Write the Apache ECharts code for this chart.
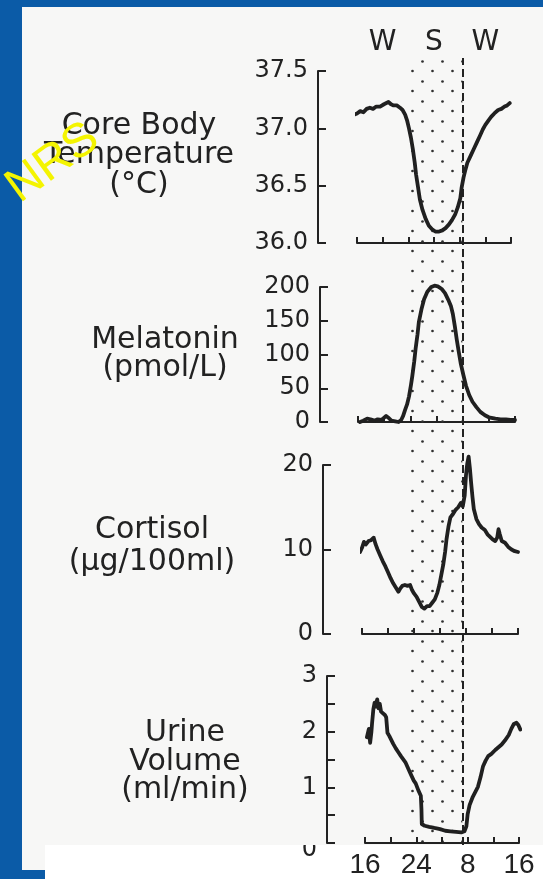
<!DOCTYPE html>
<html>
<head>
<meta charset="utf-8">
<script src="https://cdn.jsdelivr.net/npm/echarts@6/dist/echarts.min.js"></script>
<style>
  html, body { margin: 0; padding: 0; background: #f7f7f6; }
  #chart { width: 543px; height: 879px; }
</style>
</head>
<body>
<div id="chart"></div>
<script>
// ---- Clock time in hours (16 = 4 pm, 24 = midnight, 32 = 8 am next day) ----
const timeMin = 16;
const timeMax = 40;
const sleepStart = 24;
const sleepEnd = 32;
const xTickLabels = ['16', '', '24', '', '8', '', '16'];
const stateLabels = ['', 'W', '', 'S', '', 'W', ''];

// ---- Core body temperature (°C) ----
const tempTime = [15.2, 15.6, 16.0, 16.5, 17.0, 17.5, 18.0, 18.5, 19.0, 19.6, 20.2, 20.9, 21.3, 21.7, 22.2, 22.7, 23.1, 23.5, 23.8, 24.1, 24.4, 24.7, 25.0, 25.2, 25.5, 25.8, 26.2, 26.7, 27.2, 27.7, 28.2, 28.8, 29.3, 29.8, 30.3, 30.8, 31.3, 31.7, 32.1, 32.3, 32.6, 32.9, 33.2, 33.7, 34.2, 34.7, 35.2, 35.6, 36.0, 36.5, 36.9, 37.4, 38.0, 38.5, 39.0, 39.4, 39.8];
const tempC = [37.11, 37.12, 37.13, 37.15, 37.14, 37.17, 37.18, 37.17, 37.19, 37.19, 37.21, 37.23, 37.21, 37.20, 37.20, 37.18, 37.16, 37.12, 37.07, 37.00, 36.92, 36.82, 36.70, 36.60, 36.49, 36.38, 36.29, 36.21, 36.15, 36.12, 36.10, 36.10, 36.11, 36.13, 36.16, 36.20, 36.25, 36.31, 36.39, 36.48, 36.57, 36.64, 36.70, 36.76, 36.82, 36.88, 36.94, 36.99, 37.03, 37.07, 37.10, 37.13, 37.16, 37.17, 37.19, 37.20, 37.22];

// ---- Melatonin (pmol/L) ----
const melTime = [16.3, 16.8, 17.4, 17.9, 18.5, 19.0, 19.6, 20.3, 20.7, 21.1, 21.7, 22.2, 22.6, 22.9, 23.2, 23.5, 23.8, 24.1, 24.3, 24.6, 24.8, 25.1, 25.3, 25.7, 26.1, 26.6, 27.2, 27.7, 28.2, 28.8, 29.3, 29.8, 30.2, 30.5, 30.8, 31.1, 31.4, 31.7, 32.1, 32.5, 33.0, 33.5, 34.1, 34.7, 35.4, 36.0, 37.0, 37.8, 38.6, 39.3, 40.0];
const melPmol = [0, 2, 5, 4, 2, 4, 3, 9, 6, 2, 1, 0, 3, 9, 18, 26, 38, 55, 68, 90, 108, 130, 148, 167, 182, 193, 200, 202, 201, 197, 191, 181, 172, 160, 142, 122, 104, 87, 70, 54, 40, 30, 22, 15, 10, 7, 5, 4, 4, 3, 3];

// ---- Cortisol (µg/100ml) ----
const cortTime = [15.7, 16.0, 16.3, 16.6, 17.0, 17.4, 17.8, 18.1, 18.4, 18.8, 19.2, 19.6, 20.0, 20.4, 20.8, 21.2, 21.6, 21.9, 22.2, 22.6, 23.0, 23.4, 23.7, 24.0, 24.4, 24.8, 25.2, 25.6, 26.0, 26.4, 26.8, 27.2, 27.6, 27.9, 28.2, 28.5, 28.8, 29.0, 29.3, 29.6, 30.0, 30.4, 30.8, 31.2, 31.5, 31.8, 32.0, 32.2, 32.4, 32.6, 32.8, 33.0, 33.2, 33.6, 34.0, 34.4, 34.9, 35.3, 35.7, 36.1, 36.5, 36.8, 37.0, 37.2, 37.5, 38.0, 38.5, 39.0, 39.5, 40.0];
const cortUg = [9.7, 10.2, 10.9, 10.6, 11.0, 11.1, 11.4, 10.6, 10.0, 9.3, 8.6, 8.0, 7.3, 6.6, 6.0, 5.5, 5.0, 5.4, 5.7, 5.8, 5.7, 5.8, 5.2, 4.8, 4.4, 3.8, 3.2, 3.0, 3.3, 3.3, 3.7, 4.1, 4.9, 5.8, 7.0, 8.2, 9.8, 11.2, 12.7, 13.8, 14.2, 14.7, 15.0, 15.5, 15.1, 16.4, 18.8, 20.2, 21.0, 19.6, 17.8, 16.2, 14.8, 13.6, 13.0, 12.6, 12.3, 11.8, 11.5, 11.2, 11.0, 11.4, 12.4, 11.8, 11.0, 10.8, 10.3, 10.0, 9.8, 9.7];

// ---- Urine volume (ml/min) ----
const urineTime = [16.3, 16.6, 16.8, 17.0, 17.1, 17.3, 17.5, 17.7, 17.9, 18.1, 18.3, 18.5, 18.8, 19.1, 19.3, 19.5, 19.8, 20.1, 20.4, 20.8, 21.2, 21.6, 21.9, 22.3, 22.8, 23.2, 23.6, 23.9, 24.3, 24.7, 24.8, 24.85, 25.3, 26.0, 26.8, 27.7, 28.5, 29.3, 30.2, 31.0, 31.5, 31.8, 32.0, 32.3, 32.8, 33.2, 33.6, 34.0, 34.4, 34.8, 35.2, 35.7, 36.3, 36.8, 37.3, 37.8, 38.4, 38.8, 39.2, 39.6, 39.9, 40.2];
const urineMl = [1.90, 2.05, 1.80, 2.00, 2.15, 2.40, 2.52, 2.45, 2.58, 2.42, 2.50, 2.36, 2.35, 2.30, 2.26, 1.98, 1.92, 1.90, 1.78, 1.70, 1.63, 1.56, 1.55, 1.45, 1.32, 1.22, 1.12, 1.07, 0.95, 0.85, 0.60, 0.34, 0.31, 0.29, 0.27, 0.25, 0.22, 0.21, 0.20, 0.19, 0.21, 0.30, 0.52, 0.68, 0.83, 0.92, 1.01, 1.18, 1.38, 1.48, 1.56, 1.60, 1.67, 1.72, 1.77, 1.84, 1.94, 2.05, 2.14, 2.16, 2.12, 2.04];

// ---- Styling ----
const INK = '#222222';
const PAPER = '#f7f7f6';
const FIG_FONT = 'DejaVu Sans';
const zip = (xs, ys) => xs.map((x, i) => [x, ys[i]]);

// Stippled fill for the sleep period
function dotPattern() {
  const c = document.createElement('canvas');
  c.width = 20; c.height = 20;
  const g = c.getContext('2d');
  g.fillStyle = '#303030';
  [[2.5, 1.5], [12.5, 11]].forEach(([x, y]) => {
    g.beginPath(); g.arc(x, y, 1.35, 0, Math.PI * 2); g.fill();
  });
  return c;
}

// Panel rectangles: [left, top, width, height]
const panels = [
  { rect: [357, 71, 154, 172], offset: 39, min: 36, max: 37.5, interval: 0.5, fmt: v => v.toFixed(1) },
  { rect: [358, 287, 157, 135], offset: 38, min: 0, max: 200, interval: 50, fmt: v => String(v) },
  { rect: [362, 465, 156, 169], offset: 39, min: 0, max: 20, interval: 10, fmt: v => String(v) },
  // the zero label of the last panel sits low, half hidden by the panel edge
  { rect: [365, 676, 154, 167], offset: 38, min: 0, max: 3, interval: 0.5,
    fmt: v => (v === 0 ? '{low|0}' : Number.isInteger(v) ? String(v) : '') }
];

const grids = panels.map(p => ({ left: p.rect[0], top: p.rect[1], width: p.rect[2], height: p.rect[3] }));
grids.push({ left: 359, top: 58, width: 155, height: 787 }); // sleep band overlay

const xAxes = panels.map((p, i) => ({
  type: 'value', gridIndex: i, min: timeMin, max: timeMax, interval: 4,
  z: i === 3 ? 60 : 0,
  axisLine: { show: true, onZero: false, lineStyle: { color: INK, width: 2 } },
  axisTick: { show: true, inside: true, length: 6, lineStyle: { color: INK, width: 2 } },
  splitLine: { show: false },
  axisLabel: {
    show: i === 3, margin: 8, fontFamily: 'Liberation Sans', fontSize: 28, color: INK,
    formatter: v => xTickLabels[Math.round((v - timeMin) / 4)]
  }
}));
// Wake / sleep state markers along the top of the first panel
xAxes.push({
  type: 'value', gridIndex: 0, position: 'top', min: timeMin, max: timeMax, interval: 4,
  axisLine: { show: false }, axisTick: { show: false }, splitLine: { show: false },
  axisLabel: {
    margin: 14, fontFamily: FIG_FONT, fontSize: 28, color: INK,
    formatter: v => stateLabels[Math.round((v - timeMin) / 4)]
  }
});
xAxes.push({ type: 'value', gridIndex: 4, min: timeMin, max: timeMax, show: false });

const yAxes = panels.map((p, i) => ({
  type: 'value', gridIndex: i, min: p.min, max: p.max, interval: p.interval, offset: p.offset,
  z: i === 3 ? 55 : 0,
  axisLine: { show: true, onZero: false, lineStyle: { color: INK, width: 2 } },
  axisTick: { show: true, inside: true, length: 8, lineStyle: { color: INK, width: 2 } },
  splitLine: { show: false },
  axisLabel: {
    margin: 10, fontFamily: FIG_FONT, fontSize: 24, color: INK, formatter: p.fmt,
    rich: { low: { fontFamily: FIG_FONT, fontSize: 24, color: INK, padding: [14, 0, 0, 0] } }
  }
}));
yAxes.push({ type: 'value', gridIndex: 4, min: 0, max: 1, show: false });

const curve = (idx, data) => ({
  type: 'line', xAxisIndex: idx, yAxisIndex: idx, data, clip: false,
  showSymbol: false, symbol: 'none', smooth: false, z: 5,
  lineStyle: { color: '#202020', width: 3.8, join: 'round', cap: 'round' }
});

const series = [
  {
    type: 'line', xAxisIndex: 5, yAxisIndex: 4, data: [[timeMin, -1]], showSymbol: false, silent: true, z: 1,
    lineStyle: { opacity: 0 },
    markArea: {
      silent: true,
      itemStyle: { color: { image: dotPattern(), repeat: 'repeat' } },
      data: [[{ xAxis: sleepStart }, { xAxis: sleepEnd }]]
    },
    markLine: {
      silent: true, symbol: ['none', 'none'], label: { show: false },
      lineStyle: { type: [8, 4], color: INK, width: 2 },
      data: [{ xAxis: sleepEnd }]
    }
  },
  curve(0, zip(tempTime, tempC)),
  curve(1, zip(melTime, melPmol)),
  curve(2, zip(cortTime, cortUg)),
  curve(3, zip(urineTime, urineMl))
];

// Variable names beside each panel
const sideLabels = [
  { x: 139, lines: [['Core Body', 126], ['Temperature', 155], ['(°C)', 185]] },
  { x: 165, lines: [['Melatonin', 340], ['(pmol/L)', 368]] },
  { x: 152, lines: [['Cortisol', 530], ['(µg/100ml)', 562]] },
  { x: 185, lines: [['Urine', 733], ['Volume', 762], ['(ml/min)', 790]] }
];
const textEls = [];
sideLabels.forEach(s => s.lines.forEach(([t, y]) => {
  textEls.push({
    type: 'text', x: s.x, y, z: 20,
    style: {
      text: t, fill: INK, fontFamily: FIG_FONT, fontSize: 30,
      align: 'center', verticalAlign: 'middle', textAlign: 'center', textVerticalAlign: 'middle'
    }
  });
}));

const BLUE = '#0b5ba7';
const graphic = textEls.concat([
  { type: 'rect', z: 50, shape: { x: 45, y: 845, width: 498, height: 34 }, style: { fill: '#ffffff' } },
  // panel edge that hides the upper half of the last zero label
  { type: 'rect', z: 58, shape: { x: 290, y: 826, width: 30, height: 19 }, style: { fill: PAPER } },
  { type: 'rect', z: 100, shape: { x: 0, y: 0, width: 543, height: 7 }, style: { fill: BLUE } },
  { type: 'rect', z: 100, shape: { x: 0, y: 0, width: 22, height: 879 }, style: { fill: BLUE } },
  { type: 'rect', z: 100, shape: { x: 0, y: 870, width: 45, height: 9 }, style: { fill: BLUE } },
  {
    type: 'text', z: 110, x: 53, y: 163, rotation: 0.63,
    style: {
      text: 'NRS', fill: '#f4f400', fontFamily: 'Liberation Sans', fontSize: 48,
      align: 'center', verticalAlign: 'middle', textAlign: 'center', textVerticalAlign: 'middle'
    }
  }
]);

const chart = echarts.init(document.getElementById('chart'), null, { renderer: 'canvas' });
chart.setOption({
  backgroundColor: PAPER,
  animation: false,
  grid: grids,
  xAxis: xAxes,
  yAxis: yAxes,
  series,
  graphic
});
</script>
</body>
</html>
